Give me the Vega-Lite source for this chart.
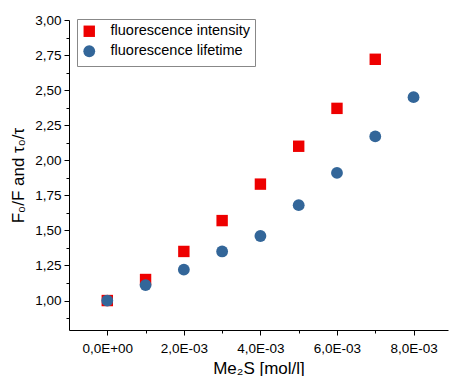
{
  "$schema": "https://vega.github.io/schema/vega-lite/v6.json",
  "autosize": "none",
  "width": 379,
  "height": 310,
  "padding": {"left": 69, "top": 20, "right": 2, "bottom": 46},
  "background": "white",
  "config": {"font": "Liberation Sans", "view": {"stroke": null}},
  "data": {"values": [
    {"c": 0.000, "v": 1.00, "series": "fluorescence intensity"},
    {"c": 0.001, "v": 1.15, "series": "fluorescence intensity"},
    {"c": 0.002, "v": 1.35, "series": "fluorescence intensity"},
    {"c": 0.003, "v": 1.57, "series": "fluorescence intensity"},
    {"c": 0.004, "v": 1.83, "series": "fluorescence intensity"},
    {"c": 0.005, "v": 2.10, "series": "fluorescence intensity"},
    {"c": 0.006, "v": 2.37, "series": "fluorescence intensity"},
    {"c": 0.007, "v": 2.72, "series": "fluorescence intensity"},
    {"c": 0.000, "v": 1.00, "series": "fluorescence lifetime"},
    {"c": 0.001, "v": 1.11, "series": "fluorescence lifetime"},
    {"c": 0.002, "v": 1.22, "series": "fluorescence lifetime"},
    {"c": 0.003, "v": 1.35, "series": "fluorescence lifetime"},
    {"c": 0.004, "v": 1.46, "series": "fluorescence lifetime"},
    {"c": 0.005, "v": 1.68, "series": "fluorescence lifetime"},
    {"c": 0.006, "v": 1.91, "series": "fluorescence lifetime"},
    {"c": 0.007, "v": 2.17, "series": "fluorescence lifetime"},
    {"c": 0.008, "v": 2.45, "series": "fluorescence lifetime"}
  ]},
  "mark": {"type": "point", "filled": true, "opacity": 1},
  "encoding": {
    "x": {
      "field": "c", "type": "quantitative",
      "scale": {"domain": [-0.001, 0.0089], "nice": false, "zero": false},
      "axis": {
        "title": "Me₂S [mol/l]", "titleFont": "Liberation Sans", "titleFontSize": 17, "titleFontWeight": "normal", "titleColor": "black", "titlePadding": 6,
        "values": [0, 0.001, 0.002, 0.003, 0.004, 0.005, 0.006, 0.007, 0.008],
        "labelExpr": "round(datum.value*1000) % 2 == 1 ? '' : replace(replace(replace(format(datum.value, '.1e'), '.', ','), 'e-', 'E-0'), 'e+', 'E+0')",
        "labelFont": "Liberation Sans", "labelFontSize": 13.5, "labelColor": "black", "labelPadding": 6,
        "grid": false, "domainColor": "black", "domainWidth": 1, "tickColor": "black",
        "tickSize": {"condition": {"test": "round(datum.value*1000) % 2 == 1", "value": 3}, "value": 5}
      }
    },
    "y": {
      "field": "v", "type": "quantitative",
      "scale": {"domain": [0.79, 3.0], "nice": false, "zero": false},
      "axis": {
        "title": "F₀/F and τ₀/τ", "titleFont": "Liberation Sans", "titleFontSize": 17, "titleFontWeight": "normal", "titleColor": "black", "titlePadding": 7,
        "values": [0.875, 1.0, 1.125, 1.25, 1.375, 1.5, 1.625, 1.75, 1.875, 2.0, 2.125, 2.25, 2.375, 2.5, 2.625, 2.75, 2.875, 3.0],
        "labelExpr": "round(datum.value*8) % 2 == 1 ? '' : replace(format(datum.value, '.2f'), '.', ',')",
        "labelFont": "Liberation Sans", "labelFontSize": 13.5, "labelColor": "black", "labelPadding": 3,
        "grid": false, "domainColor": "black", "domainWidth": 1, "tickColor": "black",
        "tickSize": {"condition": {"test": "round(datum.value*8) % 2 == 1", "value": 3}, "value": 5}
      }
    },
    "color": {
      "field": "series", "type": "nominal",
      "scale": {"domain": ["fluorescence intensity", "fluorescence lifetime"], "range": ["#ee0000", "#336699"]},
      "legend": {
        "title": null, "orient": "none", "legendX": 8, "legendY": -1,
        "strokeColor": "#888888", "fillColor": "white", "padding": 5,
        "labelFont": "Liberation Sans", "labelFontSize": 14.5, "labelColor": "black",
        "symbolSize": 130, "symbolOpacity": 1, "rowPadding": 2, "labelOffset": 14
      }
    },
    "shape": {
      "field": "series", "type": "nominal",
      "scale": {"domain": ["fluorescence intensity", "fluorescence lifetime"], "range": ["square", "circle"]}
    },
    "size": {
      "field": "series", "type": "nominal",
      "scale": {"domain": ["fluorescence intensity", "fluorescence lifetime"], "range": [130, 140]},
      "legend": null
    }
  }
}
